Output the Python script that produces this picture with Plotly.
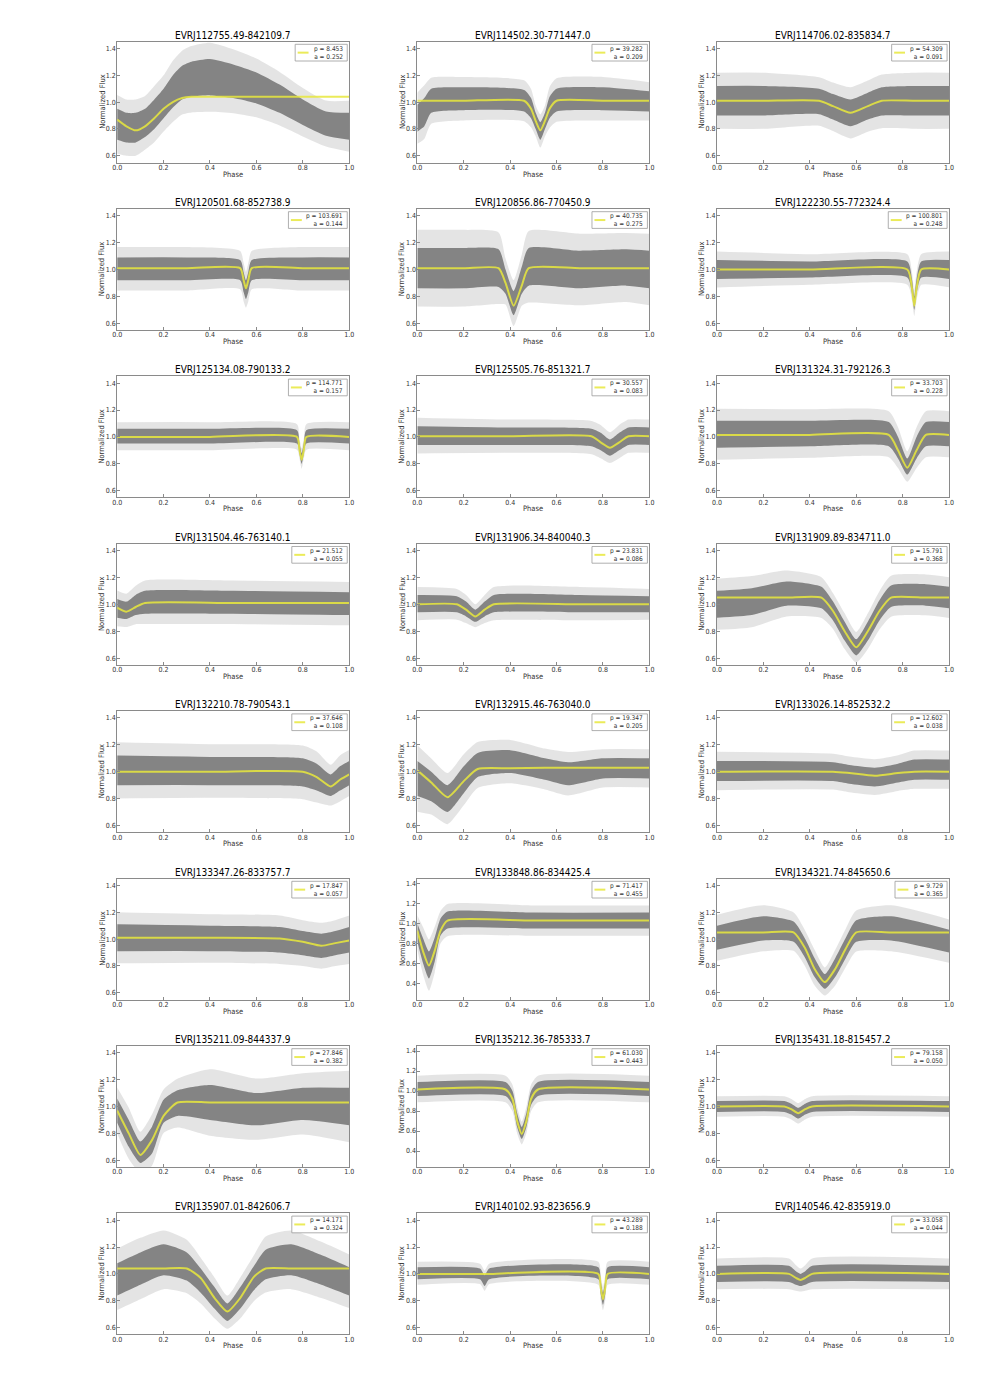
import plotly.graph_objects as go

# object names, fitted period and amplitude (as printed in the legends)
names = [
    "EVRJ112755.49-842109.7", "EVRJ114502.30-771447.0", "EVRJ114706.02-835834.7",
    "EVRJ120501.68-852738.9", "EVRJ120856.86-770450.9", "EVRJ122230.55-772324.4",
    "EVRJ125134.08-790133.2", "EVRJ125505.76-851321.7", "EVRJ131324.31-792126.3",
    "EVRJ131504.46-763140.1", "EVRJ131906.34-840040.3", "EVRJ131909.89-834711.0",
    "EVRJ132210.78-790543.1", "EVRJ132915.46-763040.0", "EVRJ133026.14-852532.2",
    "EVRJ133347.26-833757.7", "EVRJ133848.86-834425.4", "EVRJ134321.74-845650.6",
    "EVRJ135211.09-844337.9", "EVRJ135212.36-785333.7", "EVRJ135431.18-815457.2",
    "EVRJ135907.01-842606.7", "EVRJ140102.93-823656.9", "EVRJ140546.42-835919.0",
]
periods = ["8.453", "39.282", "54.309", "103.691", "40.735", "100.801", "114.771", "30.557",
           "33.703", "21.512", "23.831", "15.791", "37.646", "19.347", "12.602", "17.847",
           "71.417", "9.729", "27.846", "61.030", "79.158", "14.171", "43.289", "33.058"]
amps = ["0.252", "0.209", "0.091", "0.144", "0.275", "0.248", "0.157", "0.083",
        "0.228", "0.055", "0.086", "0.368", "0.108", "0.205", "0.038", "0.057",
        "0.455", "0.365", "0.382", "0.443", "0.050", "0.324", "0.188", "0.044"]

yticks_std = [0.6, 0.8, 1.0, 1.2, 1.4]
yticks_deep = [0.4, 0.6, 0.8, 1.0, 1.2, 1.4]
deep_panels = [16, 19]

# light curves: (phase, fitted flux, cloud low, cloud high)
lc01 = [(0.00, 0.87, 0.72, 0.95), (0.04, 0.82, 0.70, 0.92), (0.08, 0.79, 0.70, 0.92),
        (0.12, 0.82, 0.74, 0.95), (0.16, 0.88, 0.80, 1.02), (0.20, 0.95, 0.88, 1.10),
        (0.24, 1.00, 0.96, 1.20), (0.28, 1.03, 1.02, 1.27), (0.32, 1.04, 1.04, 1.30),
        (0.40, 1.04, 1.05, 1.32), (0.50, 1.04, 1.03, 1.28), (0.60, 1.04, 0.99, 1.22),
        (0.70, 1.04, 0.92, 1.13), (0.80, 1.04, 0.83, 1.02), (0.90, 1.04, 0.75, 0.93),
        (1.00, 1.04, 0.72, 0.92)]
lc02 = [(0.00, 1.01, 0.78, 0.98), (0.03, 1.01, 0.82, 1.03), (0.06, 1.01, 0.92, 1.10),
        (0.20, 1.01, 0.94, 1.11), (0.46, 1.01, 0.93, 1.09), (0.49, 0.95, 0.88, 1.03),
        (0.51, 0.86, 0.80, 0.92), (0.53, 0.79, 0.72, 0.85), (0.55, 0.86, 0.80, 0.92),
        (0.57, 0.95, 0.88, 1.04), (0.60, 1.01, 0.93, 1.10), (0.80, 1.01, 0.94, 1.11),
        (1.00, 1.01, 0.93, 1.08)]
lc03 = [(0.00, 1.01, 0.90, 1.12), (0.20, 1.01, 0.90, 1.12), (0.44, 1.01, 0.91, 1.10),
        (0.50, 0.97, 0.87, 1.06), (0.575, 0.92, 0.82, 1.02), (0.65, 0.97, 0.87, 1.07),
        (0.71, 1.01, 0.90, 1.11), (0.85, 1.01, 0.90, 1.12), (1.00, 1.01, 0.90, 1.12)]
lc04 = [(0.00, 1.01, 0.92, 1.09), (0.30, 1.01, 0.92, 1.09), (0.53, 1.01, 0.92, 1.07),
        (0.545, 0.92, 0.83, 0.98), (0.555, 0.86, 0.78, 0.92), (0.565, 0.92, 0.83, 0.98),
        (0.58, 1.01, 0.92, 1.07), (0.80, 1.01, 0.92, 1.09), (1.00, 1.01, 0.92, 1.09)]
lc05 = [(0.00, 1.01, 0.86, 1.16), (0.20, 1.01, 0.86, 1.16), (0.35, 1.01, 0.87, 1.15),
        (0.38, 0.90, 0.82, 1.00), (0.415, 0.73, 0.66, 0.84), (0.45, 0.88, 0.82, 1.02),
        (0.48, 1.01, 0.88, 1.16), (0.70, 1.01, 0.86, 1.14), (0.90, 1.01, 0.88, 1.15),
        (1.00, 1.01, 0.86, 1.14)]
lc06 = [(0.00, 1.00, 0.93, 1.07), (0.40, 1.00, 0.94, 1.06), (0.82, 1.00, 0.94, 1.06),
        (0.84, 0.86, 0.82, 0.93), (0.85, 0.73, 0.70, 0.80), (0.86, 0.86, 0.82, 0.93),
        (0.88, 1.00, 0.94, 1.06), (1.00, 1.00, 0.93, 1.07)]
lc07 = [(0.00, 1.00, 0.95, 1.06), (0.40, 1.00, 0.95, 1.06), (0.775, 1.00, 0.95, 1.05),
        (0.785, 0.91, 0.88, 0.96), (0.795, 0.83, 0.80, 0.88), (0.805, 0.91, 0.88, 0.96),
        (0.815, 1.00, 0.95, 1.05), (1.00, 1.00, 0.95, 1.06)]
lc08 = [(0.00, 1.005, 0.94, 1.08), (0.40, 1.005, 0.94, 1.07), (0.75, 1.005, 0.93, 1.06),
        (0.79, 0.96, 0.90, 1.03), (0.83, 0.92, 0.86, 0.98), (0.87, 0.96, 0.90, 1.03),
        (0.91, 1.005, 0.94, 1.07), (1.00, 1.005, 0.94, 1.07)]
lc09 = [(0.00, 1.015, 0.92, 1.12), (0.40, 1.015, 0.93, 1.12), (0.74, 1.015, 0.93, 1.11),
        (0.78, 0.90, 0.84, 1.00), (0.82, 0.77, 0.72, 0.84), (0.86, 0.90, 0.84, 1.00),
        (0.90, 1.015, 0.93, 1.11), (1.00, 1.015, 0.93, 1.11)]
lc10 = [(0.00, 0.975, 0.90, 1.04), (0.04, 0.945, 0.89, 1.02), (0.08, 0.98, 0.92, 1.07),
        (0.12, 1.01, 0.93, 1.10), (0.50, 1.01, 0.93, 1.10), (1.00, 1.01, 0.92, 1.09)]
lc11 = [(0.00, 1.00, 0.94, 1.07), (0.17, 1.00, 0.94, 1.06), (0.21, 0.96, 0.91, 1.02),
        (0.25, 0.91, 0.87, 0.96), (0.29, 0.96, 0.91, 1.02), (0.33, 1.00, 0.94, 1.07),
        (0.70, 1.00, 0.94, 1.07), (1.00, 1.00, 0.94, 1.06)]
lc12 = [(0.00, 1.05, 0.90, 1.10), (0.15, 1.05, 0.92, 1.12), (0.30, 1.05, 0.99, 1.17),
        (0.45, 1.05, 0.97, 1.13), (0.50, 0.95, 0.88, 1.02), (0.55, 0.80, 0.73, 0.87),
        (0.60, 0.68, 0.62, 0.74), (0.65, 0.80, 0.73, 0.87), (0.70, 0.95, 0.88, 1.03),
        (0.75, 1.05, 0.98, 1.14), (0.90, 1.05, 0.99, 1.15), (1.00, 1.05, 0.97, 1.13)]
lc13 = [(0.00, 1.00, 0.90, 1.12), (0.40, 1.00, 0.90, 1.11), (0.80, 1.00, 0.89, 1.10),
        (0.86, 0.96, 0.86, 1.06), (0.92, 0.89, 0.82, 0.98), (0.96, 0.94, 0.86, 1.04),
        (1.00, 0.98, 0.90, 1.08)]
lc14 = [(0.00, 1.01, 0.82, 1.08), (0.06, 0.92, 0.78, 1.00), (0.13, 0.81, 0.70, 0.90),
        (0.20, 0.93, 0.84, 1.04), (0.26, 1.02, 0.96, 1.14), (0.40, 1.025, 0.99, 1.16),
        (0.55, 1.03, 0.94, 1.10), (0.65, 1.03, 0.90, 1.07), (0.80, 1.03, 0.95, 1.10),
        (1.00, 1.03, 0.95, 1.10)]
lc15 = [(0.00, 1.00, 0.93, 1.08), (0.50, 1.00, 0.93, 1.07), (0.57, 0.99, 0.91, 1.05),
        (0.68, 0.97, 0.89, 1.03), (0.78, 0.99, 0.92, 1.06), (0.85, 1.00, 0.94, 1.09),
        (1.00, 1.00, 0.94, 1.09)]
lc16 = [(0.00, 1.01, 0.91, 1.11), (0.40, 1.01, 0.91, 1.10), (0.70, 1.005, 0.90, 1.09),
        (0.80, 0.98, 0.88, 1.06), (0.88, 0.95, 0.86, 1.04), (0.94, 0.97, 0.88, 1.06),
        (1.00, 0.99, 0.90, 1.09)]
lc17 = [(0.00, 0.93, 0.82, 1.00), (0.025, 0.72, 0.60, 0.85), (0.05, 0.58, 0.45, 0.72),
        (0.075, 0.73, 0.62, 0.86), (0.10, 0.93, 0.88, 1.05), (0.13, 1.03, 0.95, 1.12),
        (0.50, 1.03, 0.95, 1.11), (1.00, 1.03, 0.95, 1.11)]
lc18 = [(0.00, 1.05, 0.92, 1.10), (0.20, 1.05, 0.99, 1.17), (0.33, 1.05, 0.98, 1.13),
        (0.38, 0.93, 0.86, 1.00), (0.42, 0.78, 0.72, 0.86), (0.465, 0.68, 0.63, 0.74),
        (0.51, 0.78, 0.72, 0.86), (0.555, 0.93, 0.86, 1.01), (0.60, 1.05, 0.98, 1.14),
        (0.75, 1.05, 0.99, 1.17), (1.00, 1.05, 0.90, 1.07)]
lc19 = [(0.00, 0.97, 0.88, 1.06), (0.05, 0.80, 0.70, 0.90), (0.10, 0.64, 0.58, 0.74),
        (0.15, 0.75, 0.65, 0.85), (0.20, 0.93, 0.88, 1.05), (0.26, 1.03, 0.93, 1.12),
        (0.40, 1.03, 0.90, 1.16), (0.60, 1.03, 0.86, 1.10), (0.80, 1.03, 0.90, 1.14),
        (1.00, 1.03, 0.86, 1.14)]
lc20 = [(0.00, 1.015, 0.95, 1.09), (0.38, 1.015, 0.95, 1.09), (0.41, 0.92, 0.86, 1.00),
        (0.43, 0.70, 0.64, 0.78), (0.45, 0.57, 0.52, 0.64), (0.47, 0.70, 0.64, 0.78),
        (0.49, 0.92, 0.86, 1.00), (0.52, 1.015, 0.95, 1.09), (1.00, 1.015, 0.95, 1.09)]
lc21 = [(0.00, 1.00, 0.96, 1.04), (0.29, 1.00, 0.96, 1.04), (0.32, 0.98, 0.94, 1.02),
        (0.35, 0.95, 0.91, 0.99), (0.38, 0.98, 0.94, 1.02), (0.41, 1.00, 0.96, 1.04),
        (1.00, 1.00, 0.96, 1.04)]
lc22 = [(0.00, 1.04, 0.84, 1.08), (0.10, 1.04, 0.92, 1.16), (0.20, 1.04, 0.99, 1.22),
        (0.30, 1.04, 0.95, 1.16), (0.36, 0.97, 0.86, 1.04), (0.42, 0.82, 0.74, 0.90),
        (0.475, 0.72, 0.65, 0.78), (0.53, 0.82, 0.74, 0.90), (0.59, 0.98, 0.88, 1.06),
        (0.64, 1.04, 0.96, 1.18), (0.75, 1.04, 0.99, 1.22), (0.88, 1.04, 0.92, 1.14),
        (1.00, 1.04, 0.84, 1.05)]
lc23 = [(0.00, 1.00, 0.96, 1.05), (0.27, 1.00, 0.96, 1.04), (0.29, 1.00, 0.91, 0.99),
        (0.31, 1.00, 0.96, 1.04), (0.78, 1.00, 0.96, 1.05), (0.79, 0.90, 0.85, 0.95),
        (0.80, 0.81, 0.77, 0.86), (0.81, 0.90, 0.85, 0.95), (0.82, 1.00, 0.96, 1.05),
        (1.00, 1.00, 0.96, 1.05)]
lc24 = [(0.00, 1.00, 0.94, 1.06), (0.31, 1.00, 0.94, 1.06), (0.34, 0.97, 0.92, 1.02),
        (0.36, 0.955, 0.91, 1.00), (0.38, 0.97, 0.92, 1.02), (0.41, 1.00, 0.94, 1.06),
        (1.00, 1.00, 0.94, 1.06)]

curves = [lc01, lc02, lc03, lc04, lc05, lc06, lc07, lc08, lc09, lc10, lc11, lc12,
          lc13, lc14, lc15, lc16, lc17, lc18, lc19, lc20, lc21, lc22, lc23, lc24]

W, H = 1000, 1396
col_left = [113.3, 416.5, 719.2]
ax_w, ax_h = 234.4, 121.0
row_top0, row_pitch = 41.6, 167.4

core_col = "rgba(118,118,118,0.88)"
halo_col = "rgba(130,130,130,0.22)"
fit_col = "rgba(232,232,60,0.85)"
font = "DejaVu Sans Condensed, DejaVu Sans"

fig = go.Figure()
shapes, annotations = [], []

for k, rows in enumerate(curves):
    r, c = divmod(k, 3)
    sfx = "" if k == 0 else str(k + 1)
    xa, ya = "x" + sfx, "y" + sfx
    ph = [t[0] for t in rows]
    fit = [t[1] for t in rows]
    lo = [t[2] for t in rows]
    hi = [t[3] for t in rows]
    # faint halo for the sparse outliers around the dense core
    h_lo = [(l + h) / 2 - 1.9 * (h - l) / 2 for l, h in zip(lo, hi)]
    h_hi = [(l + h) / 2 + 1.9 * (h - l) / 2 for l, h in zip(lo, hi)]

    band = dict(width=0, shape="spline", smoothing=0.6)
    fig.add_trace(go.Scatter(x=ph, y=h_lo, xaxis=xa, yaxis=ya, mode="lines",
                             line=band, hoverinfo="skip"))
    fig.add_trace(go.Scatter(x=ph, y=h_hi, xaxis=xa, yaxis=ya, mode="lines",
                             line=band, fill="tonexty", fillcolor=halo_col, hoverinfo="skip"))
    fig.add_trace(go.Scatter(x=ph, y=lo, xaxis=xa, yaxis=ya, mode="lines",
                             line=band, hoverinfo="skip"))
    fig.add_trace(go.Scatter(x=ph, y=hi, xaxis=xa, yaxis=ya, mode="lines",
                             line=band, fill="tonexty", fillcolor=core_col, hoverinfo="skip"))
    fig.add_trace(go.Scatter(x=ph, y=fit, xaxis=xa, yaxis=ya, mode="lines",
                             line=dict(color=fit_col, width=2, shape="spline", smoothing=0.6)))

    left = col_left[c]
    top = row_top0 + r * row_pitch
    deep = k in deep_panels
    axis_common = dict(showline=True, mirror=True, linecolor="#8a8a8a", linewidth=1,
                       ticks="inside", ticklen=3, tickcolor="#8a8a8a", showgrid=False,
                       zeroline=False, tickfont=dict(size=7, color="#333333", family=font),
                       tickformat=".1f", fixedrange=True)
    fig.update_layout({
        "xaxis" + sfx: dict(domain=[left / W, (left + ax_w) / W], anchor=ya, range=[0, 1],
                            tickvals=[0, 0.2, 0.4, 0.6, 0.8, 1.0], ticklabelstandoff=-2,
                            **axis_common),
        "yaxis" + sfx: dict(domain=[1 - (top + ax_h) / H, 1 - top / H], anchor=xa,
                            range=[0.24, 1.45] if deep else [0.55, 1.45],
                            tickvals=yticks_deep if deep else yticks_std, ticklabelstandoff=-1,
                            **axis_common),
    })

    xd, yd = xa + " domain", ya + " domain"
    annotations.append(dict(text=names[k], x=0.5, y=1, xref=xd, yref=yd, xanchor="center",
                            yanchor="bottom", yshift=-1, showarrow=False,
                            font=dict(size=10, color="black", family=font)))
    annotations.append(dict(text="Phase", x=0.5, y=0, xref=xd, yref=yd, xanchor="center",
                            yanchor="middle", yshift=-11.5, showarrow=False,
                            font=dict(size=7.5, color="#333333", family=font)))
    annotations.append(dict(text="Normalized Flux", x=0, y=0.5, xref=xd, yref=yd,
                            xanchor="center", yanchor="middle", xshift=-15.5, textangle=-90,
                            showarrow=False, font=dict(size=7.5, color="#333333", family=font)))

    # legend box
    ptxt, atxt = "p = " + periods[k], "a = " + amps[k]
    n = max(len(ptxt), len(atxt))
    bw = 22 + 3.4 * n
    b_right = 1 - 2 / ax_w
    b_left = b_right - bw / ax_w
    b_top = 1 - 2.7 / ax_h
    b_bot = 1 - 19.4 / ax_h
    b_mid = (b_top + b_bot) / 2
    shapes.append(dict(type="rect", xref=xd, yref=yd, x0=b_left, x1=b_right, y0=b_bot, y1=b_top,
                       line=dict(color="#9a9a9a", width=0.8), fillcolor="white", layer="above"))
    shapes.append(dict(type="line", xref=xd, yref=yd, x0=b_left + 2.5 / ax_w,
                       x1=b_left + 13.5 / ax_w, y0=b_mid, y1=b_mid,
                       line=dict(color=fit_col, width=2), layer="above"))
    annotations.append(dict(text=ptxt + "<br>" + atxt, x=b_right, y=b_mid, xref=xd, yref=yd,
                            xanchor="right", yanchor="middle", xshift=-2, align="right",
                            showarrow=False, font=dict(size=6.5, color="#333333", family=font)))

fig.update_layout(width=W, height=H, margin=dict(l=0, r=0, t=0, b=0),
                  paper_bgcolor="white", plot_bgcolor="white", showlegend=False,
                  font=dict(family=font), shapes=shapes, annotations=annotations)

# drop the default 8px page margin so the figure sits at the window origin
fig.write_html("out.html", config={"displayModeBar": False},
               post_script="document.body.style.margin='0';document.body.style.overflow='hidden';")
